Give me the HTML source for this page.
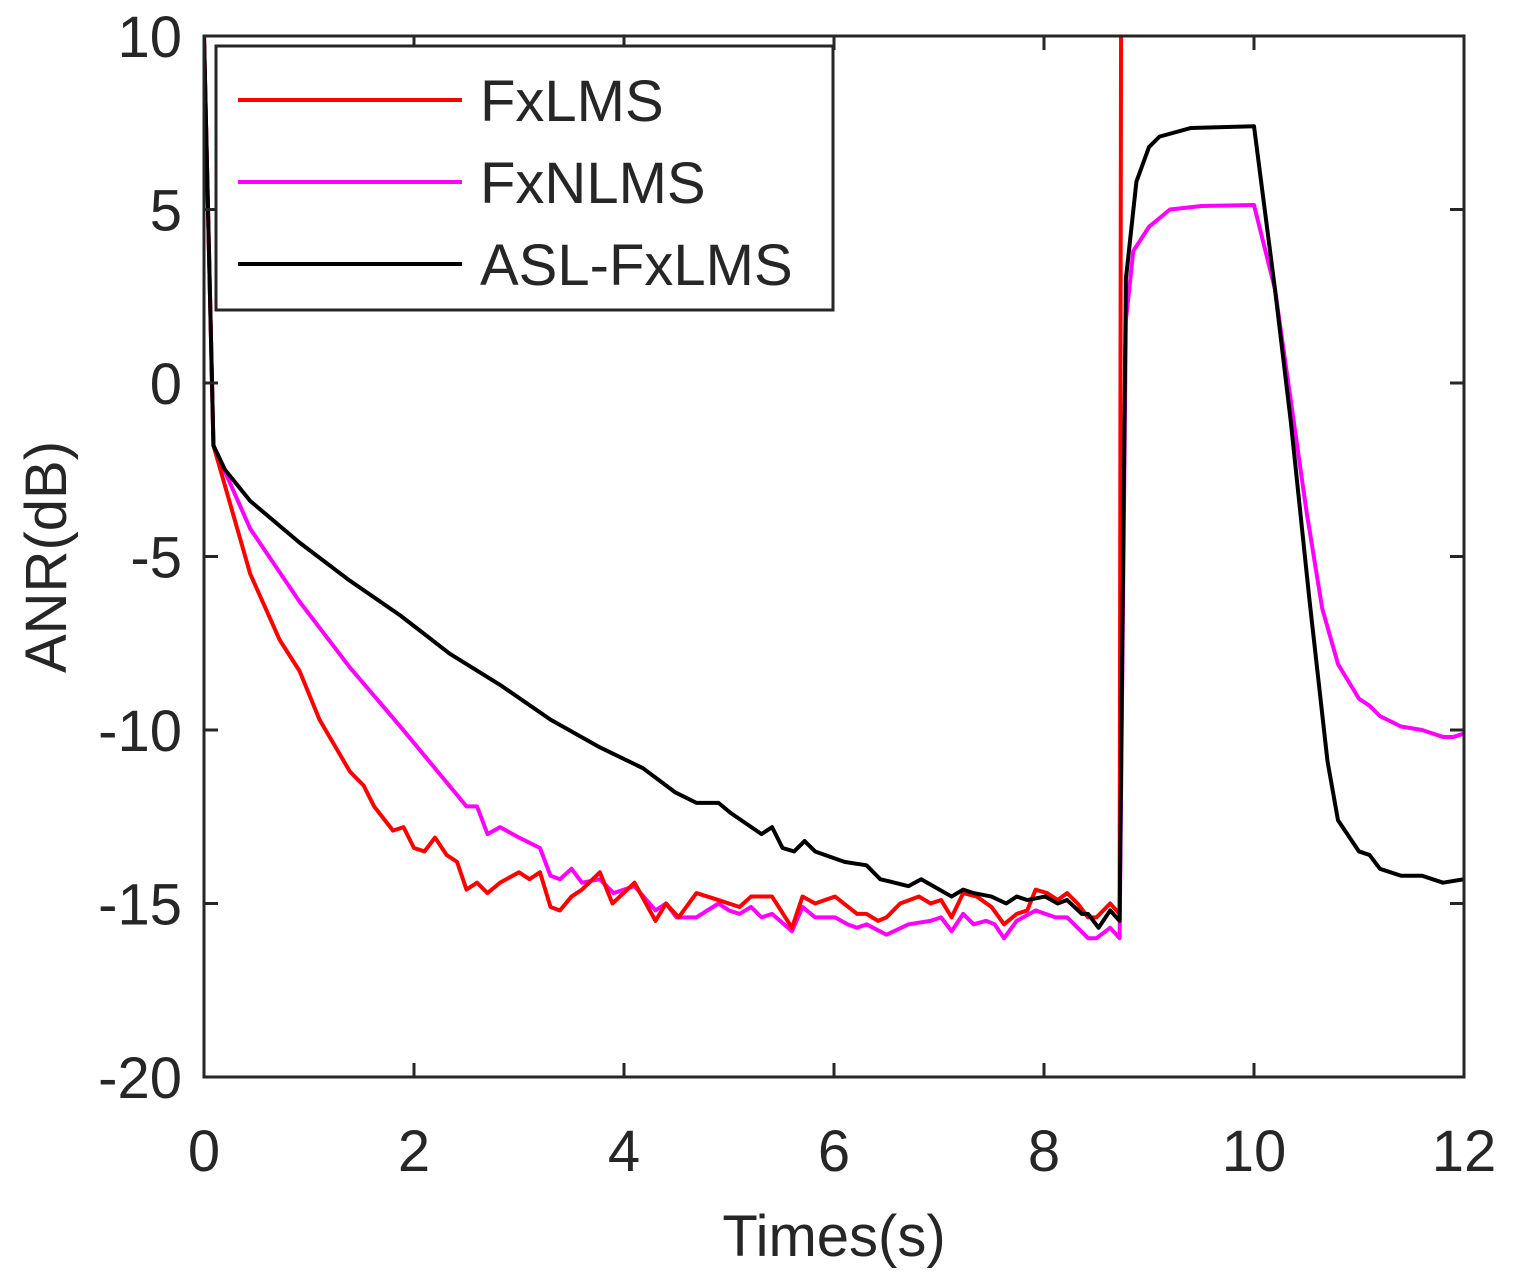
<!DOCTYPE html>
<html><head><meta charset="utf-8"><style>
body{margin:0;background:#fff;}
svg text{font-family:"Liberation Sans",Arial,sans-serif;fill:#262626;}
</style></head><body>
<svg id="chart" width="1513" height="1277" xmlns="http://www.w3.org/2000/svg">
<defs><clipPath id="clip"><rect x="204" y="36" width="1260" height="1041"/></clipPath></defs>
<rect width="1513" height="1277" fill="#fff"/>
<g id="series" clip-path="url(#clip)"></g>
<g id="axes"></g>
<text x="834" y="1256" font-size="58" text-anchor="middle">Times(s)</text>
<text transform="translate(66,557) rotate(-90)" font-size="58" text-anchor="middle">ANR(dB)</text>
<g>
<rect x="216" y="46" width="617" height="264" fill="#fff" stroke="#262626" stroke-width="3"/>
<line x1="238" y1="100" x2="462" y2="100" stroke="#ff0000" stroke-width="4"/>
<text x="480" y="121" font-size="58">FxLMS</text>
<line x1="238" y1="182" x2="462" y2="182" stroke="#ff00ff" stroke-width="4"/>
<text x="480" y="203" font-size="58">FxNLMS</text>
<line x1="238" y1="264" x2="462" y2="264" stroke="#000" stroke-width="4"/>
<text x="480" y="285" font-size="58">ASL-FxLMS</text>
</g>
</svg>
<script>
const xTicks=[0,2,4,6,8,10,12];
const yTicks=[10,5,0,-5,-10,-15,-20];
const tRed=[0,0.09,0.44,0.72,0.91,1.1,1.39,1.52,1.62,1.8,1.9,2.0,2.1,2.2,2.31,2.41,2.5,2.6,2.7,2.82,3.0,3.1,3.2,3.3,3.39,3.5,3.6,3.77,3.89,4.1,4.3,4.4,4.52,4.69,4.9,5.1,5.21,5.41,5.6,5.7,5.82,6.01,6.22,6.31,6.42,6.5,6.63,6.81,6.92,7.02,7.12,7.23,7.36,7.5,7.62,7.74,7.84,7.92,8.03,8.13,8.22,8.32,8.42,8.5,8.63,8.72,8.75,12];
const vRed=[10,-1.8,-5.5,-7.4,-8.3,-9.7,-11.2,-11.6,-12.2,-12.9,-12.8,-13.4,-13.5,-13.1,-13.6,-13.8,-14.6,-14.4,-14.7,-14.4,-14.1,-14.3,-14.1,-15.1,-15.2,-14.8,-14.6,-14.1,-15.0,-14.4,-15.5,-15.0,-15.4,-14.7,-14.9,-15.1,-14.8,-14.8,-15.7,-14.8,-15.0,-14.8,-15.3,-15.3,-15.5,-15.4,-15.0,-14.8,-15.0,-14.9,-15.4,-14.7,-14.8,-15.1,-15.6,-15.3,-15.2,-14.6,-14.7,-14.9,-14.7,-15.0,-15.4,-15.4,-15.0,-15.3,40,40];
const tMag=[0,0.09,0.44,0.91,1.39,1.87,2.5,2.6,2.7,2.82,3.0,3.2,3.3,3.39,3.5,3.6,3.77,3.9,4.1,4.3,4.4,4.5,4.69,4.9,5.0,5.1,5.21,5.31,5.41,5.6,5.7,5.82,6.01,6.13,6.22,6.31,6.5,6.71,6.92,7.02,7.12,7.23,7.33,7.45,7.53,7.62,7.74,7.92,8.11,8.22,8.42,8.5,8.63,8.72,8.78,8.85,9.0,9.2,9.5,10.0,10.2,10.35,10.5,10.65,10.8,11.0,11.1,11.2,11.4,11.6,11.8,11.9,12];
const vMag=[10,-1.8,-4.2,-6.3,-8.2,-9.9,-12.2,-12.2,-13.0,-12.8,-13.1,-13.4,-14.2,-14.3,-14.0,-14.4,-14.3,-14.7,-14.5,-15.2,-15.0,-15.4,-15.4,-15.0,-15.2,-15.3,-15.1,-15.4,-15.3,-15.8,-15.1,-15.4,-15.4,-15.6,-15.7,-15.6,-15.9,-15.6,-15.5,-15.4,-15.8,-15.3,-15.6,-15.5,-15.6,-16.0,-15.5,-15.2,-15.4,-15.4,-16.0,-16.0,-15.7,-16.0,1.8,3.8,4.5,5.0,5.1,5.13,2.7,-0.5,-3.7,-6.5,-8.1,-9.1,-9.3,-9.6,-9.9,-10.0,-10.2,-10.2,-10.1];
const tBlk=[0,0.09,0.2,0.44,0.91,1.39,1.87,2.34,2.82,3.3,3.77,4.18,4.49,4.69,4.9,5.02,5.31,5.41,5.51,5.62,5.72,5.82,6.1,6.31,6.44,6.71,6.83,7.12,7.23,7.33,7.5,7.64,7.74,7.84,8.01,8.13,8.22,8.36,8.42,8.52,8.63,8.72,8.78,8.88,9.0,9.1,9.4,10.0,10.2,10.35,10.53,10.7,10.8,11.0,11.1,11.2,11.4,11.6,11.8,12];
const vBlk=[10,-1.8,-2.5,-3.4,-4.6,-5.7,-6.7,-7.8,-8.7,-9.7,-10.5,-11.1,-11.8,-12.1,-12.1,-12.4,-13.0,-12.8,-13.4,-13.5,-13.2,-13.5,-13.8,-13.9,-14.3,-14.5,-14.3,-14.8,-14.6,-14.7,-14.8,-15.0,-14.8,-14.9,-14.8,-15.0,-14.9,-15.3,-15.3,-15.7,-15.2,-15.5,3.0,5.8,6.8,7.1,7.35,7.4,2.7,-1.1,-6.3,-10.9,-12.6,-13.5,-13.6,-14.0,-14.2,-14.2,-14.4,-14.3];
const NS='http://www.w3.org/2000/svg';
const X0=204,X1=1464,Y0=36,Y1=1077;
function sx(t){return X0+(t-0)/(12-0)*(X1-X0);}
function sy(v){return Y0+(10-v)/(10-(-20))*(Y1-Y0);}
function mk(tag,attrs,parent){const e=document.createElementNS(NS,tag);for(const k in attrs)e.setAttribute(k,attrs[k]);parent.appendChild(e);return e;}
const series=document.getElementById('series');
function line(ts,vs,color,name){
  const p=mk('polyline',{points:ts.map((t,i)=>sx(t)+','+sy(vs[i])).join(' '),fill:'none',stroke:color,'stroke-width':4,'stroke-linejoin':'round'},series);
  
  
}
line(tMag,vMag,'#ff00ff','fxnlms-line');
line(tRed,vRed,'#ff0000','fxlms-line');
line(tBlk,vBlk,'#000000','asl-fxlms-line');
const ax=document.getElementById('axes');
const box=mk('rect',{x:X0,y:Y0,width:X1-X0,height:Y1-Y0,fill:'none',stroke:'#262626','stroke-width':3},ax);


xTicks.forEach(t=>{
  const x=sx(t);
  mk('line',{x1:x,y1:Y1,x2:x,y2:Y1-14,stroke:'#262626','stroke-width':3},ax);
  mk('line',{x1:x,y1:Y0,x2:x,y2:Y0+14,stroke:'#262626','stroke-width':3},ax);
  const tx=mk('text',{x:x,y:1171,'font-size':58,'text-anchor':'middle'},ax);
  tx.textContent=t;
  
  
});
yTicks.forEach(v=>{
  const y=sy(v);
  mk('line',{x1:X0,y1:y,x2:X0+14,y2:y,stroke:'#262626','stroke-width':3},ax);
  mk('line',{x1:X1,y1:y,x2:X1-14,y2:y,stroke:'#262626','stroke-width':3},ax);
  const tx=mk('text',{x:182,y:y+21,'font-size':58,'text-anchor':'end'},ax);
  tx.textContent=v;
  
  
});
</script>
</body></html>
